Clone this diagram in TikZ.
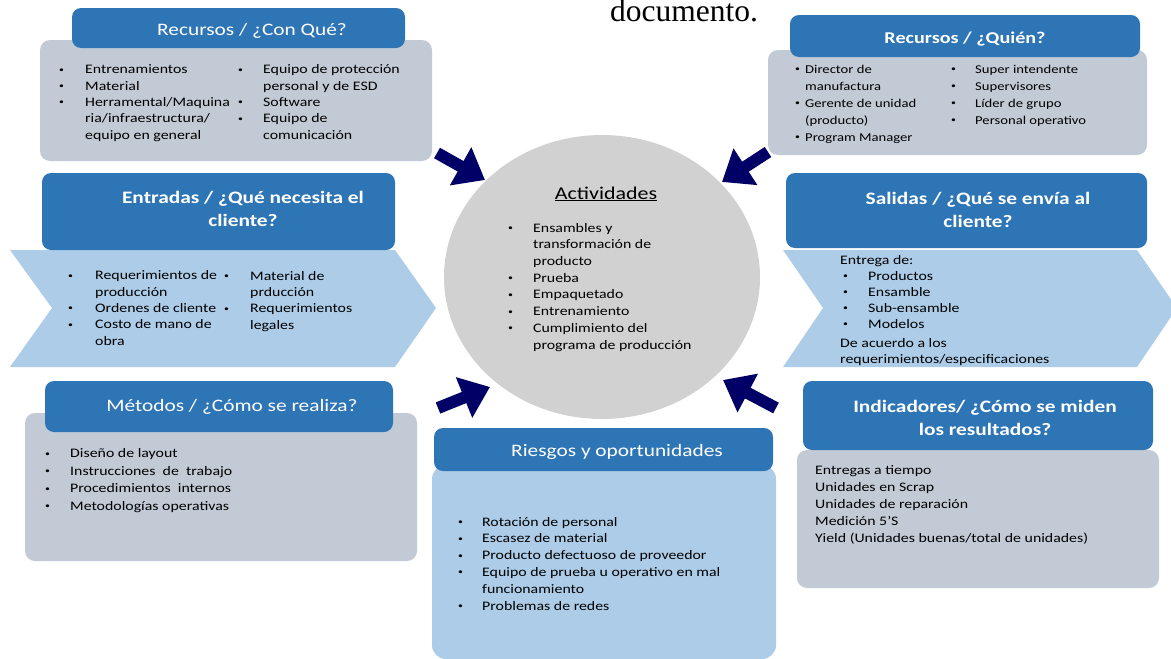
\documentclass[tikz,border=0pt]{standalone}
\usepackage{fontspec}
\setmainfont{Carlito}[FakeStretch=1.22]
\newfontfamily\docfont{Liberation Serif}
\usetikzlibrary{arrows.meta,shapes.geometric}
\definecolor{hdrblue}{RGB}{46,117,182}
\definecolor{boxgray}{RGB}{194,202,214}
\definecolor{chevblue}{RGB}{172,204,232}
\definecolor{circgray}{RGB}{209,209,209}
\definecolor{navyarr}{RGB}{0,0,102}
\newcommand\bul[1][26pt]{\makebox[#1][l]{\raisebox{0.25ex}{\fontsize{8}{8}\selectfont\textbullet}}}
\newcommand\ind[1][26pt]{\hspace*{#1}}

\begin{document}
\begin{tikzpicture}[x=1pt,y=-1pt,line join=round]
		\tikzset{body/.style={fill=boxgray,rounded corners=10pt},
			hdr/.style={fill=hdrblue,rounded corners=9pt},
			lst/.style={anchor=base west,inner sep=0pt,align=left,font=\fontsize{13}{16.3}\selectfont},
			ttl/.style={anchor=base,inner sep=0pt,align=center,text=white,font=\fontsize{17.5}{23}\selectfont},
			ttlb/.style={ttl,font=\fontsize{17.5}{23}\selectfont\bfseries},
			blockarrow/.style={draw=navyarr,line width=12pt,-{Triangle[length=28pt,width=42pt]}}}
		\clip (0,0) rectangle (1171,659);
		\node[anchor=base west,inner sep=0pt,font=\docfont\fontsize{31.5}{32}\selectfont] (doc) at (610,21) {documento.};
		% shapes behind the texts
		\fill[body] (40,40) rectangle (432,161);
		\fill[hdr] (72,8) rectangle (405,48);
		\fill[body] (768,50) rectangle (1147,155);
		\fill[hdr] (790,15) rectangle (1140,57);
		\fill[chevblue] (10,250) -- (395,250) -- (436,308) -- (395,367) -- (10,367) -- (52,308) -- cycle;
		\fill[hdr] (42,173) rectangle (395,250);
		\fill[chevblue] (783,250) -- (1137,250) -- (1177,308) -- (1137,367) -- (783,367) -- (823,308) -- cycle;
		\fill[hdr] (786,173) rectangle (1147,248);
		\node[ellipse,fill=circgray,minimum width=316pt,minimum height=284pt,inner sep=0pt] (act) at (602,277) {};
		\fill[body] (25,413) rectangle (417,561);
		\fill[hdr] (45,381) rectangle (393,432);
		\fill[chevblue,rounded corners=14pt] (432,465) rectangle (776,659);
		\fill[hdr] (434,428) rectangle (773,471);
		\fill[body] (797,450) rectangle (1159,588);
		\fill[hdr] (803,381) rectangle (1153,450);
		% Recursos / Con Que (base = last line)
		\node[ttl] (conqueT) at (252,35) {Recursos / ¿Con Qué?};
		\node[lst] (conqueA) at (59,139) {\bul Entrenamientos\\ \bul Material\\ \bul Herramental/Maquina\\ \ind ria/infraestructura/\\ \ind equipo en general};
		\node[lst] (conqueB) at (238,139) {\bul[25pt]Equipo de protección\\ \ind[25pt]personal y de ESD\\ \bul[25pt]Software\\ \bul[25pt]Equipo de\\ \ind[25pt]comunicación};
		% Recursos / Quien
		\node[ttlb,font=\fontsize{16.5}{20}\selectfont\bfseries] (quienT) at (965,43) {Recursos / ¿Quién?};
		\node[lst,font=\fontsize{12}{17}\selectfont] (quienA) at (795,141) {\bul[10pt]Director de\\ \ind[10pt]manufactura\\ \bul[10pt]Gerente de unidad\\ \ind[10pt](producto)\\ \bul[10pt]Program Manager};
		\node[lst,font=\fontsize{12}{17}\selectfont] (quienB) at (951,124) {\bul[24pt]Super intendente\\ \bul[24pt]Supervisores\\ \bul[24pt]Líder de grupo\\ \bul[24pt]Personal operativo};
		% Entradas
		\node[ttlb] (entT) at (243,226) {Entradas / ¿Qué necesita el\\ cliente?};
		\node[lst] (entA) at (68,345) {\bul[27pt]Requerimientos de\\ \ind[27pt]producción\\ \bul[27pt]Ordenes de cliente\\ \bul[27pt]Costo de mano de\\ \ind[27pt]obra};
		\node[lst] (entB) at (224,329) {\bul Material de\\ \ind prducción\\ \bul Requerimientos\\ \ind legales};
		% Salidas
		\node[ttlb] (salT) at (978,227) {Salidas / ¿Qué se envía al\\ cliente?};
		\node[lst,font=\fontsize{13}{16}\selectfont] (salA) at (840,363) {Entrega de:\\ \ind[3pt]\bul[25pt]Productos\\ \ind[3pt]\bul[25pt]Ensamble\\ \ind[3pt]\bul[25pt]Sub-ensamble\\ \ind[3pt]\bul[25pt]Modelos\\[3pt] De acuerdo a los\\ requerimientos/especificaciones};
		% Actividades
		\node[anchor=base,inner sep=0pt,font=\fontsize{18}{20}\selectfont] (actT) at (606,199) {\underline{Actividades}};
		\node[lst,font=\fontsize{13}{16.7}\selectfont] (actA) at (508,349) {\bul[25pt]Ensambles y\\ \ind[25pt]transformación de\\ \ind[25pt]producto\\ \bul[25pt]Prueba\\ \bul[25pt]Empaquetado\\ \bul[25pt]Entrenamiento\\ \bul[25pt]Cumplimiento del\\ \ind[25pt]programa de producción};
		% Metodos
		\node[ttl] (metT) at (232,411) {Métodos / ¿Cómo se realiza?};
		\node[lst,font=\fontsize{13}{17.4}\selectfont] (metA) at (45,510) {\bul[25pt]Diseño de layout\\ \bul[25pt]Instrucciones\ \ de\ \ trabajo\\ \bul[25pt]Procedimientos\ \ internos\\ \bul[25pt]Metodologías operativas};
		% Riesgos
		\node[ttl] (rieT) at (617,456) {Riesgos y oportunidades};
		\node[lst,font=\fontsize{13}{16.8}\selectfont] (rieA) at (458,610) {\bul[24pt]Rotación de personal\\ \bul[24pt]Escasez de material\\ \bul[24pt]Producto defectuoso de proveedor\\ \bul[24pt]Equipo de prueba u operativo en mal\\ \ind[24pt]funcionamiento\\ \bul[24pt]Problemas de redes};
		% Indicadores
		\node[ttlb] (indT) at (985,435) {Indicadores/ ¿Cómo se miden\\ los resultados?};
		\node[lst,font=\fontsize{13}{17}\selectfont] (indA) at (815,542) {Entregas a tiempo\\ Unidades en Scrap\\ Unidades de reparación\\ Medición 5’S\\ Yield (Unidades buenas/total de unidades)};
		% arrows into the activities
		\coordinate (tlA) at (437,153); \coordinate (tlB) at (485,180);
		\coordinate (trA) at (768,152); \coordinate (trB) at (722,182);
		\coordinate (blA) at (438,408); \coordinate (blB) at (490,387);
		\coordinate (brA) at (776,408); \coordinate (brB) at (723,380);
		\draw[blockarrow] (tlA) -- (tlB);
		\draw[blockarrow] (trA) -- (trB);
		\draw[blockarrow] (blA) -- (blB);
		\draw[blockarrow] (brA) -- (brB);
		\end{tikzpicture}
\end{document}
